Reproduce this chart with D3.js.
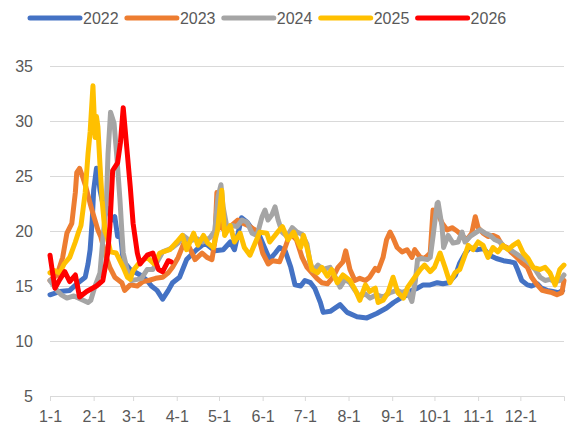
<!DOCTYPE html>
<html>
<head>
<meta charset="utf-8">
<script src="https://cdn.jsdelivr.net/npm/d3@7"></script>
<style>
  body { margin: 0; background: #fff; }
  svg { display: block; }
  text { font-family: "Liberation Sans", Arial, sans-serif; fill: #595959; }
</style>
</head>
<body>
<svg id="chart" width="579" height="428"></svg>
<script>
// Series names and colours
const years = ["2022", "2023", "2024", "2025", "2026"];
const colors = ["#4472C4", "#ED7D31", "#A5A5A5", "#FFC000", "#FF0000"];

// X axis: month starts as day-of-year, with their labels
const monthStartDays = [0, 31, 59, 90, 120, 151, 181, 212, 243, 273, 304, 334];
const monthLabels = ["1-1", "2-1", "3-1", "4-1", "5-1", "6-1", "7-1", "8-1", "9-1", "10-1", "11-1", "12-1"];
const yTicks = [5, 10, 15, 20, 25, 30, 35];

// Each series: [day of year, value]
const s2022 = [[0,14.2],[7,14.5],[14,14.6],[20,15.3],[25,15.8],[27,17],[28.5,18.3],[30,21],[31,23.7],[33,25.7],[34,25.5],[35.5,23.7],[37.5,22.5],[41,22],[44,21],[46,21.3],[48,19.5],[50,19.8],[52,17.3],[57,16.5],[64,16],[69,15.5],[72,15],[76,14.6],[80,13.8],[84,14.6],[87,15.3],[92,15.8],[97,17.4],[104,18.3],[110,18.9],[117,18.2],[123,18.3],[128,19],[131,18.3],[136,21.2],[140,20.8],[144,20.1],[148,19.8],[153,18.3],[156,17.4],[160,18],[163,18.5],[167,18.2],[171,16.7],[174,15.1],[178,15],[181,15.5],[185,15.3],[188,14.8],[192,13.5],[194,12.6],[199,12.7],[206,13.3],[211,12.6],[218,12.2],[225,12.1],[232,12.5],[239,13],[244,13.5],[249,13.9],[254,14.2],[257,14.6],[261,14.8],[265,15.1],[270,15.1],[275,15.3],[279,15.2],[283,15.3],[288,16],[291,17.1],[295,18],[298,18.5],[303,18.3],[308,18.4],[312,17.8],[317,17.5],[322,17.3],[327,17.2],[330,17.1],[332,16.5],[335,15.5],[339,15.1],[342,15],[346,15.2],[349,14.8],[353,14.6],[357,14.5],[361,14.4],[364,14.6]];

const s2023 = [[0,15.5],[5,16],[9,17.6],[12,19.8],[15.5,20.7],[18,23.5],[19,25.3],[21,25.7],[23.5,24.8],[25.5,24],[28.5,22.5],[30.5,21.6],[34,20.1],[36,19.5],[39,18],[42.5,16.7],[46,15.8],[51,15.3],[53,14.6],[57,15.1],[62,15],[66,15.4],[70,15.5],[75,15.7],[80,15.8],[84,16.2],[87,16.7],[91,17.6],[96,19.2],[99,18.5],[103,17.4],[108,18],[111.5,17.6],[115,17.4],[117,19],[118.5,23.5],[120.5,20.4],[124,20.1],[129,20.5],[133.5,21],[137,20.7],[142,20.4],[145.5,20.1],[149,19],[151,18],[155,17],[158,17.3],[163,17.2],[167,18.5],[170.5,19.8],[175,19.2],[179,17.6],[182.5,16.7],[186,16.2],[189.5,15.7],[193,15.3],[197,15.2],[201,15.8],[204.5,16.7],[208,17.2],[210,18.2],[213,16.5],[216.5,15.5],[220,15.7],[224,15.5],[227,15.8],[231,16.6],[233,16.4],[236.5,17.6],[239,19.2],[241.5,19.9],[243.5,19.4],[246.5,18.5],[250,18.1],[253.5,18.3],[257,17.6],[259,18.3],[263,17.6],[266,17.5],[270,18],[272,21.9],[275,21.7],[278.5,20.7],[282,20.1],[285.5,20.3],[289,20],[292.5,19.6],[296,19.2],[299.5,19.8],[302,21.3],[304,20.3],[307.5,19.8],[311,19.5],[314.5,19.6],[318,19.4],[321,18.7],[324.5,18.5],[328,18],[331.5,17.6],[335,17.1],[339,16.7],[342,15.8],[346,15.1],[349.5,14.6],[353,14.5],[356.5,14.4],[360,14.2],[363.5,14.4],[365,15.5]];

const s2024 = [[0,15.5],[5,14.6],[8,14.2],[12,13.9],[17,14.1],[22,13.8],[27,13.5],[29,13.7],[32,15],[35.5,16.2],[37.5,19.2],[40,22.5],[41.2,27],[43,30.8],[45.5,29.8],[47.5,26.7],[49.7,22.8],[51,20],[52,18],[54.7,16.5],[58,15.5],[62,15.6],[65,15.7],[69,16.5],[73,16.5],[77,17.4],[80,18.1],[84,18.3],[87,18.5],[91,18.9],[94.5,19.6],[99.5,19.1],[104.5,19.3],[108.7,19],[113.6,19.4],[117,20],[119.3,23.1],[121.4,24.2],[122.9,22.2],[125.7,20.3],[129.3,20.5],[132.8,20.4],[136.4,21],[140,20.8],[143.5,19.8],[147,19.6],[150.6,21.3],[152.7,21.9],[154.8,21],[157.7,21.5],[159.8,22.2],[162,21],[164.8,19.9],[168.3,19.5],[172,20.3],[175.4,19.9],[179,19.7],[182.5,18.8],[184.7,17.1],[186.8,16.4],[190.3,16.9],[193.9,16.5],[198.9,16.7],[203.8,15.5],[206,14.9],[209.5,15.6],[213,15.3],[216.6,14.6],[220,14],[223.7,14.3],[227.3,13.9],[232,14.2],[236.5,14],[241.5,14.4],[246.4,14.6],[250,14.4],[253.6,14.6],[257,13.6],[259.5,15.5],[261,17.4],[264,17.5],[268,17.4],[270,17.6],[272,19.5],[274.9,22.5],[275.6,22.6],[278.4,20.4],[279.5,18.5],[282.7,19.6],[286.2,18.9],[289.8,19],[292.6,19.9],[294.7,19],[298.3,19.5],[301.8,19.8],[305.4,20.1],[309,19.8],[312.5,19.6],[316,19.2],[319.6,19],[323,18.5],[326.7,18.3],[330.3,18],[333.8,17.7],[337.4,17.4],[341,17],[344.5,16.5],[348,15.8],[351.6,15.5],[355,15.6],[358.7,15.4],[362,15.5],[365,16]];

const s2025 = [[0,16.2],[3,16.4],[7,16.2],[10,17],[14,17.6],[18,19],[20,19.8],[22,20.5],[25,23.5],[27,27],[28.5,29],[30.5,33.2],[32,28.5],[33,30.4],[34,29.5],[35.5,26],[37,22.8],[39,20],[40.5,19.5],[43,18.1],[47,18],[52,16.7],[55,15.8],[57,15.6],[59,16.4],[64,17.2],[69,17.6],[74,17],[78,18],[85,18.3],[90,19],[94,19.6],[97,18.3],[102,19.8],[105,18.7],[109,19.6],[112,18.9],[116,18.5],[119,20.1],[122,23.7],[124,19.6],[128,20.5],[131,19],[135,19.8],[138,18.5],[142,17.8],[146,19],[149,19.9],[154,19.8],[156,19],[161,19.8],[165,20.4],[169,19.2],[173,19.9],[178,18.5],[180,19.6],[182.5,18.5],[186,16.5],[190,16.2],[193,16.7],[197,15.9],[200,16.5],[204,15.3],[208,16],[213,15.5],[217,14.6],[220,13.7],[224,15.1],[227,14.5],[231,14.8],[233,13.5],[236.5,13.7],[240,14.4],[243.6,15.8],[247,14.4],[251,13.9],[254,14.9],[259,15.8],[263,16.5],[266,16.9],[270,16.3],[273,16.7],[277,18],[280.5,16.7],[284,15.3],[287.6,16.2],[291,16.5],[294.7,17.8],[297,18.7],[300.4,18.3],[304,19],[307.5,18.7],[311,17.6],[314.6,18.5],[318,18.1],[321.7,18.7],[325.3,18.3],[328.8,18.7],[332.4,19],[336,18],[339.5,17.5],[343,16.7],[348,16.5],[351.6,16.7],[355,16.2],[358.7,15.1],[362,16.5],[365,16.9]];

const s2026 = [[0,17.8],[1.5,16.5],[3.5,14.8],[7,15.6],[10.5,16.3],[14,15.4],[18,16],[21,14],[26,14.5],[33,15],[37.5,15.5],[41,18],[42.5,20.4],[44.5,25.5],[48,26.2],[50,28],[52,31.2],[54.5,27.6],[57,24],[59,20.7],[62,18],[64,17],[69,17.8],[73,18],[77,16.5],[80,16.3],[84,17.3],[86,17.2]];

const seriesData = [s2022, s2023, s2024, s2025, s2026];

const svg = d3.select("#chart");
const plotLeft = 50, plotRight = 564, plotTop = 66, plotBottom = 396;

const x = d3.scaleLinear().domain([0, 365]).range([plotLeft, plotRight]);
const y = d3.scaleLinear().domain([5, 35]).range([plotBottom, plotTop]);

// Horizontal gridlines with value labels
const yAxis = svg.append("g")
  .attr("transform", `translate(${plotLeft},0)`)
  .call(d3.axisLeft(y).tickValues(yTicks).tickSize(-(plotRight - plotLeft)).tickPadding(17));
yAxis.select(".domain").remove();
yAxis.selectAll(".tick line").attr("stroke", "#d9d9d9").attr("stroke-width", 1);
yAxis.selectAll(".tick text").attr("font-size", 16).style("fill", "#595959")
  .style("font-family", '"Liberation Sans", Arial, sans-serif');

// Month axis along the bottom
const xAxis = svg.append("g")
  .attr("transform", `translate(0,${plotBottom})`)
  .call(d3.axisBottom(x).tickValues(monthStartDays)
    .tickFormat((d, i) => monthLabels[i])
    .tickSize(5).tickSizeOuter(5).tickPadding(10));
xAxis.select(".domain").attr("stroke", "#d9d9d9");
xAxis.selectAll(".tick line").attr("stroke", "#d9d9d9");
xAxis.selectAll(".tick text").attr("font-size", 16).style("fill", "#595959")
  .style("font-family", '"Liberation Sans", Arial, sans-serif');

// Year lines
const line = d3.line().x(d => x(d[0])).y(d => y(d[1]));
svg.append("g").selectAll("path")
  .data(seriesData)
  .join("path")
  .attr("d", line)
  .attr("fill", "none")
  .attr("stroke", (d, i) => colors[i])
  .attr("stroke-width", 5)
  .attr("stroke-linejoin", "round")
  .attr("stroke-linecap", "round");

// Legend across the top
const legend = svg.append("g").selectAll("g")
  .data(years)
  .join("g")
  .attr("transform", (d, i) => `translate(${30 + i * 96.9},18)`);
legend.append("line")
  .attr("x1", 0).attr("x2", 50).attr("y1", 0).attr("y2", 0)
  .attr("stroke", (d, i) => colors[i])
  .attr("stroke-width", 5)
  .attr("stroke-linecap", "round");
legend.append("text")
  .attr("x", 53).attr("y", 0).attr("dy", "0.36em")
  .attr("font-size", 16)
  .text(d => d);
</script>
</body>
</html>
